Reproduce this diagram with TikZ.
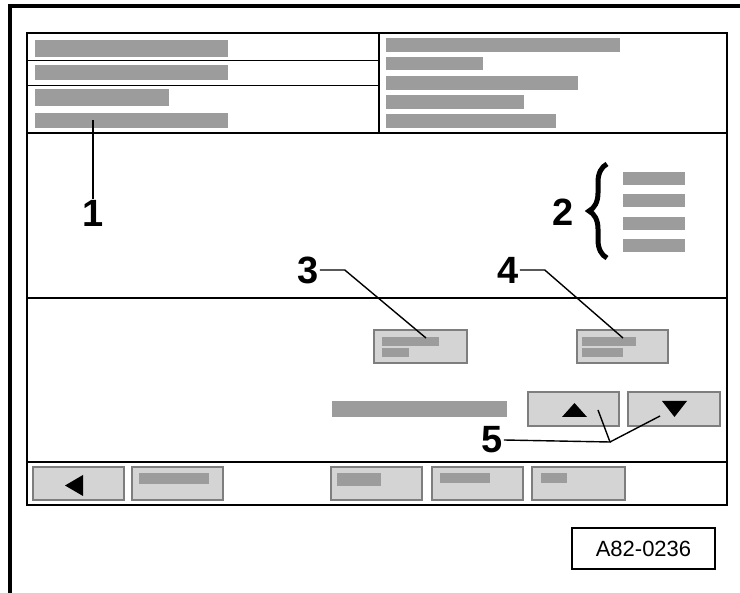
\documentclass[tikz,border=0pt]{standalone}
\usepackage{fontspec}
\setmainfont{Liberation Sans}
\usetikzlibrary{decorations.pathreplacing,positioning}
\definecolor{bargray}{HTML}{9C9C9C}
\definecolor{btngray}{HTML}{D4D4D4}
\definecolor{btnedge}{HTML}{7E7E7E}
\tikzset{
    bar/.style={fill=bargray},
    btn/.style={fill=btngray, draw=btnedge, line width=1.8pt},
    callout/.style={font=\bfseries\fontsize{38}{38}\selectfont, inner sep=1pt},
    leader/.style={line width=1.4pt},
    frameline/.style={line width=2.5pt}
}

\begin{document}
\begin{tikzpicture}[x=1pt, y=-1pt]
    \useasboundingbox (0, 0) rectangle (740, 593);

    % outer frame
    \draw[line width=4pt] (10, 593) -- (10, 6) -- (740, 6);

    % screen
    \draw[frameline] (27, 33) rectangle (727, 505);
    \draw[frameline] (27, 133) -- (727, 133);
    \draw[frameline] (379, 33) -- (379, 133);
    \draw[line width=0.8pt] (27, 60) -- (379, 60);
    \draw[line width=0.8pt] (27, 85) -- (379, 85);
    \draw[line width=2pt] (27, 298) -- (727, 298);
    \draw[line width=2pt] (27, 462) -- (727, 462);

    % header, left
    \fill[bar] (35, 40) rectangle (228, 57);
    \fill[bar] (35, 65) rectangle (228, 80);
    \fill[bar] (35, 89) rectangle (169, 106);
    \fill[bar] (35, 113) rectangle (228, 128);

    % header, right
    \fill[bar] (386, 38) rectangle (620, 52);
    \fill[bar] (386, 57) rectangle (483, 70);
    \fill[bar] (386, 76) rectangle (578, 90);
    \fill[bar] (386, 95) rectangle (524, 109);
    \fill[bar] (386, 114) rectangle (556, 128);

    % list
    \foreach \y in {172, 194, 217, 239} {
        \fill[bar] (623, \y) rectangle (685, \y + 13);
    }
    \draw[line width=5pt, decorate, decoration={brace, amplitude=18pt}]
        (607, 258) -- (607, 164);

    % buttons 3 and 4
    \draw[btn] (374, 330) rectangle (467, 363);
    \fill[bar] (382, 337) rectangle (439, 346);
    \fill[bar] (382, 348) rectangle (409, 357);
    \draw[btn] (577, 330) rectangle (668, 363);
    \fill[bar] (582, 337) rectangle (636, 346);
    \fill[bar] (582, 348) rectangle (623, 357);

    % scroll row
    \fill[bar] (332, 401) rectangle (507, 417);
    \draw[btn] (528, 392) rectangle (619, 426);
    \fill (562, 417) -- (587, 417) -- (574.5, 403) -- cycle;
    \draw[btn] (628, 392) rectangle (720, 426);
    \fill (662, 401) -- (687, 401) -- (674.5, 417) -- cycle;

    % bottom bar
    \draw[btn] (33, 467) rectangle (124, 500);
    \fill (65, 485.5) -- (83, 475) -- (83, 496) -- cycle;
    \draw[btn] (132, 467) rectangle (223, 500);
    \fill[bar] (139, 473) rectangle (209, 484);
    \draw[btn] (331, 467) rectangle (422, 500);
    \fill[bar] (337, 473) rectangle (381, 486);
    \draw[btn] (432, 467) rectangle (523, 500);
    \fill[bar] (440, 473) rectangle (490, 483);
    \draw[btn] (532, 467) rectangle (625, 500);
    \fill[bar] (541, 473) rectangle (567, 483);

    % callouts
    \node[callout] (lbl1) at (93, 213) {1};
    \node[callout] (lbl2) at (563, 212) {2};
    \node[callout] (lbl3) at (308, 270) {3};
    \node[callout] (lbl4) at (508, 270) {4};
    \node[callout] (lbl5) at (492, 440) {5};

    \coordinate (tip1) at (93, 120);
    \coordinate (tip3) at (426, 338);
    \coordinate (tip4) at (623, 338);
    \coordinate (fork5) at (610, 442);
    \coordinate (tip5up) at (598, 410);
    \coordinate (tip5down) at (660, 416);

    \draw[leader] (lbl1.north) -- (tip1);
    \draw[leader] (lbl3.east) -- ++(25, 0) -- (tip3);
    \draw[leader] (lbl4.east) -- ++(25, 0) -- (tip4);
    \draw[leader] (lbl5.east) -- (fork5) -- (tip5up);
    \draw[leader] (fork5) -- (tip5down);

    % stamp
    \node[draw, line width=2pt, minimum width=143pt, minimum height=41pt,
          font=\fontsize{22}{22}\selectfont] (stamp) at (643.5, 548.5) {A82-0236};
\end{tikzpicture}
\end{document}
